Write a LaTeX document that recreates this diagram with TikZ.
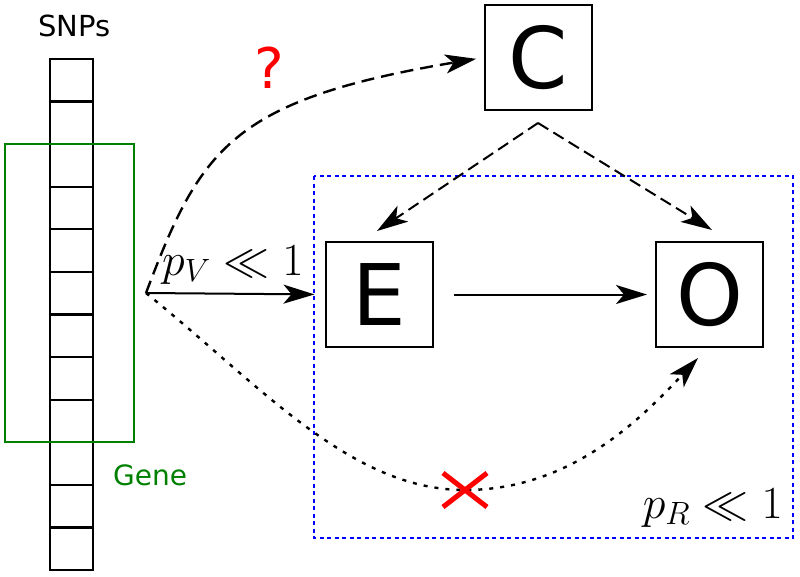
\RequirePackage{fix-cm}
\documentclass[tikz,border=0pt]{standalone}
\usepackage{fontspec}
\setmainfont{DejaVu Sans}
\usetikzlibrary{arrows.meta}
\definecolor{genegreen}{RGB}{0,128,0}
\definecolor{regblue}{RGB}{0,0,255}
\begin{document}
\begin{tikzpicture}[x=1pt,y=-1pt,
  box/.style={draw,line width=2pt,minimum width=107pt,minimum height=105pt,inner sep=0pt,font=\fontsize{85}{90}\selectfont},
  tip/.style={-{Stealth[length=31pt,width=19pt,inset=8pt]}},
  dashline/.style={line width=2.4pt,dash pattern=on 13pt off 7pt},
  dotline/.style={line width=2.4pt,dash pattern=on 4pt off 7pt},
  mathlbl/.style={inner sep=0pt,font=\fontsize{46}{50}\selectfont}]
\useasboundingbox (0,0) rectangle (800,576);
% SNP column
\foreach \i in {0,...,11}{
  \draw[line width=2.2pt] (50,{59+\i*42.583}) rectangle (93,{59+(\i+1)*42.583});
}
\node[inner sep=0pt,anchor=base,font=\fontsize{29}{32}\selectfont] (snps) at (74.5,36) {SNPs};
% gene box
\draw[genegreen,line width=1.8pt] (5,144) rectangle (134,442);
\node[inner sep=0pt,anchor=base west,text=genegreen,font=\fontsize{28}{32}\selectfont] (gene) at (113,485) {Gene};
% regression box
\draw[regblue,line width=2.5pt,dash pattern=on 4pt off 3.5pt] (314,176) rectangle (793,538);
% nodes
\node[box] (C) at (538.5,57.5) {C};
\node[box] (E) at (379,294.5) {E};
\node[box] (O) at (709.5,294.5) {O};
\coordinate (src) at (146,293);
\coordinate (Cb) at (538,123);
\coordinate (Etip) at (377,231);
\coordinate (Otip) at (712,230);
\coordinate (Odot) at (698,358);
\coordinate (Xc) at (465,490);
% labels
\node[mathlbl,anchor=base west] (pv) at (162,275) {$p_V \ll 1$};
\node[mathlbl,anchor=base east] (pr) at (783,518) {$p_R \ll 1$};
\node[inner sep=0pt,anchor=base,text=red,font=\fontsize{56}{60}\selectfont] (q) at (269.5,88) {?};
% arrows
\draw[tip,line width=2pt,shorten >=10pt] (src) -- (E.west);
\draw[tip,line width=2pt,shorten <=20pt,shorten >=8pt] (E.east) -- (O.west);
\draw[tip,dashline,line width=2pt,dash pattern=on 12pt off 6pt] (Cb) -- (Etip);
\draw[tip,dashline,line width=2pt,dash pattern=on 12pt off 6pt] (Cb) -- (Otip);
\draw[tip,dashline,shorten >=8pt] (src) .. controls (200,150) and (230,100) .. (C.west);
\draw[tip,dotline] (src) .. controls (260,385) and (350,490) .. (Xc) .. controls (570,490) and (640,420) .. (Odot);
% red cross
\draw[red,line width=5pt] ([xshift=-22pt,yshift=-17pt]Xc) -- ([xshift=22pt,yshift=17pt]Xc);
\draw[red,line width=5pt] ([xshift=-22pt,yshift=17pt]Xc) -- ([xshift=22pt,yshift=-17pt]Xc);
\end{tikzpicture}
\end{document}
